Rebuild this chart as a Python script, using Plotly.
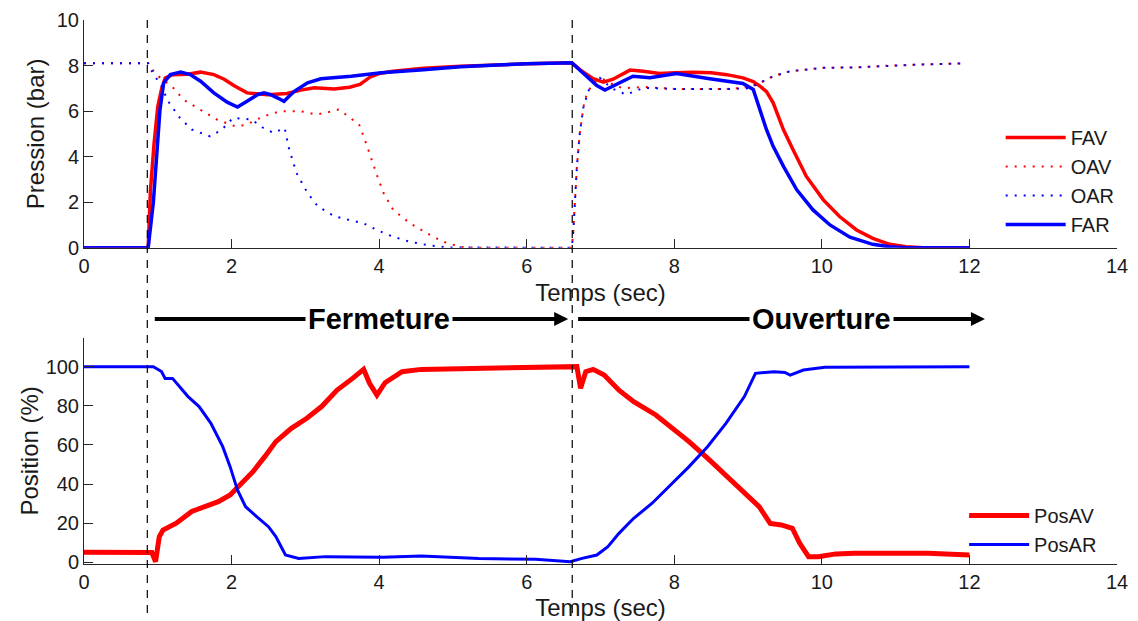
import plotly.graph_objects as go

# --- pression (haut) ---
t_fav = [0, 0.87, 0.9, 0.95, 1.0, 1.05, 1.1, 1.2, 1.4, 1.58, 1.76, 1.9, 2.03, 2.21, 2.49, 2.75, 2.94, 3.12,
         3.39, 3.6, 3.74, 3.88, 4.0, 4.19, 4.6, 5.1, 5.6, 6.0, 6.61, 6.75, 6.9, 7.04, 7.17, 7.3, 7.4, 7.58,
         7.8, 8.0, 8.26, 8.5, 8.71, 8.93, 9.07, 9.16, 9.25, 9.34, 9.48, 9.61, 9.79, 10.02, 10.24, 10.47,
         10.69, 10.92, 11.14, 11.37, 12.0]
p_fav = [0, 0, 2.5, 4.6, 6.2, 6.95, 7.45, 7.6, 7.62, 7.71, 7.6, 7.4, 7.12, 6.8, 6.72, 6.77, 6.92, 7.02,
         6.97, 7.05, 7.17, 7.5, 7.65, 7.75, 7.88, 7.97, 8.02, 8.08, 8.12, 7.75, 7.42, 7.27, 7.4, 7.62, 7.8, 7.75,
         7.65, 7.68, 7.71, 7.68, 7.6, 7.46, 7.3, 7.1, 6.85, 6.36, 5.18, 4.3, 3.13, 2.1, 1.37, 0.78,
         0.41, 0.15, 0.04, 0, 0]

t_oav = [0, 0.87, 0.92, 1.0, 1.1, 1.19, 1.35, 1.57, 1.8, 2.05, 2.2, 2.43, 2.66, 2.93, 3.15, 3.38, 3.45,
         3.57, 3.73, 3.8, 3.89, 3.98, 4.06, 4.19, 4.42, 4.65, 4.87, 5.1, 5.3, 6.61, 6.63, 6.65, 6.68, 6.72,
         6.77, 6.81, 6.9, 7.04, 7.17, 7.3, 7.58, 8.03, 8.71, 8.93, 9.12, 9.34, 9.57, 10.02, 10.47, 10.92,
         11.37, 11.95]
p_oav = [8.1, 8.1, 7.85, 7.55, 7.3, 7.09, 6.5, 6.07, 5.63, 5.33, 5.4, 5.77, 5.99, 6.0, 5.85, 6.0, 6.07,
         5.8, 5.4, 4.8, 3.9, 3.1, 2.4, 1.66, 1.07, 0.63, 0.26, 0.04, 0, 0, 0.63, 2.1, 3.57, 5.04,
         6.2, 6.72, 7.24, 7.39, 7.17, 7.0, 7.06, 6.97, 6.97, 7.02, 7.17, 7.53, 7.75, 7.9, 7.92, 8.0,
         8.05, 8.1]

t_oar = [0, 0.87, 0.9, 0.97, 1.05, 1.14, 1.3, 1.46, 1.71, 1.87, 2.02, 2.27, 2.43, 2.57, 2.72, 2.77, 2.88,
         3.03, 3.17, 3.4, 3.6, 3.79, 3.97, 4.19, 4.42, 4.65, 4.92, 6.61, 6.63, 6.65, 6.68, 6.72, 6.77, 6.86,
         6.99, 7.15, 7.35, 7.58, 8.03, 8.71, 9.0, 9.12, 9.34, 9.57, 10.02, 10.47, 10.92, 11.37, 11.95]
p_oar = [8.1, 8.1, 7.85, 7.5, 7.09, 6.43, 5.7, 5.19, 4.89, 5.19, 5.7, 5.63, 5.26, 5.04, 5.26, 4.45, 3.28,
         2.4, 1.81, 1.37, 1.22, 1.07, 0.78, 0.48, 0.26, 0.12, 0.01, 0, 0.63, 2.1, 3.57, 5.04, 6.2, 7.1,
         7.46, 7.0, 6.72, 7.02, 6.97, 6.97, 7.0, 7.17, 7.53, 7.75, 7.9, 7.92, 8.0, 8.05, 8.1]

t_far = [0, 0.87, 0.94, 0.99, 1.03, 1.08, 1.17, 1.31, 1.44, 1.58, 1.76, 1.94, 2.08, 2.21, 2.35, 2.44, 2.53,
         2.64, 2.71, 2.78, 2.85, 3.03, 3.21, 3.62, 4.03, 4.6, 5.1, 5.6, 6.0, 6.61, 6.81, 6.95, 7.06, 7.22,
         7.44, 7.67, 8.03, 8.48, 8.93, 9.07, 9.16, 9.25, 9.34, 9.48, 9.66, 9.88, 10.11, 10.38, 10.69,
         10.92, 11.14, 12.0]
p_far = [0, 0, 2.0, 4.3, 6.07, 7.24, 7.6, 7.71, 7.6, 7.31, 6.8, 6.39, 6.18, 6.43, 6.72, 6.8, 6.72,
         6.55, 6.43, 6.65, 6.87, 7.24, 7.42, 7.53, 7.68, 7.82, 7.95, 8.02, 8.08, 8.12, 7.53, 7.12, 6.92, 7.17,
         7.53, 7.46, 7.65, 7.42, 7.21, 6.95, 6.06, 5.18, 4.45, 3.57, 2.54, 1.66, 1.0, 0.46, 0.15,
         0.04, 0, 0]

# --- position (bas) ---
t_posav = [0, 0.87, 0.92, 0.97, 1.02, 1.07, 1.25, 1.46, 1.67, 1.82, 1.98, 2.13, 2.29, 2.45, 2.6, 2.81,
           3.02, 3.22, 3.43, 3.64, 3.79, 3.87, 3.97, 4.08, 4.31, 4.57, 5.09, 6.12, 6.62, 6.68, 6.73, 6.8,
           6.9, 7.05, 7.25, 7.45, 7.75, 7.95, 8.2, 8.45, 8.7, 8.95, 9.15, 9.3, 9.45, 9.6, 9.7, 9.82, 9.95,
           10.19, 10.44, 11.44, 12.0]
v_posav = [5.1, 5.0, 5.0, 0.3, 13, 16.5, 20, 26, 29.3, 31, 34.4, 40.4, 46.3, 54, 61.7, 68.5,
           73.6, 79.6, 88, 94, 98.6, 91.5, 85.5, 91.8, 97.4, 98.6, 99.1, 99.7, 100, 100, 88.9, 97.4,
           98.6, 95.7, 88, 82.1, 75.3, 69.3, 61.7, 53.2, 44.6, 36.1, 28.4, 19.9, 19.1, 17.4, 9.7, 2.9, 2.9,
           4.3, 4.6, 4.6, 3.7]

t_posar = [0, 0.87, 0.94, 1.05, 1.1, 1.2, 1.41, 1.56, 1.72, 1.88, 1.98, 2.08, 2.19, 2.34, 2.5, 2.6, 2.73,
           2.91, 3.27, 4.05, 4.57, 5.35, 6.12, 6.59, 6.75, 6.95, 7.1, 7.25, 7.45, 7.7, 7.95, 8.2, 8.45, 8.7,
           8.95, 9.1, 9.35, 9.5, 9.57, 9.75, 10.04, 12.0]
v_posar = [100, 100, 100, 97.5, 94, 94, 84.7, 79.6, 71, 59.1, 48.9, 37, 28.4, 23.3, 18.2, 13.1, 3.7,
           2.0, 2.9, 2.6, 3.2, 2.0, 1.5, 0.3, 2.0, 3.7, 8, 14.8, 22.5, 30.2, 39.5, 48.9, 59.1, 71,
           84.7, 96.6, 97.4, 97, 95.7, 98.3, 99.7, 100]

t_events = [0.858, 6.617]  # debut fermeture / debut ouverture

FONT = 'Liberation Sans, Arial, sans-serif'
AXC = '#262626'
RED = '#ff0000'
BLUE = '#0000ff'

fig = go.Figure()

# pression
fig.add_trace(go.Scatter(x=t_fav, y=p_fav, mode='lines', name='FAV', line=dict(color=RED, width=3.5),
                         xaxis='x', yaxis='y', legend='legend'))
fig.add_trace(go.Scatter(x=t_oav, y=p_oav, mode='lines', name='OAV',
                         line=dict(color=RED, width=2, dash='2px,7px'), xaxis='x', yaxis='y', legend='legend'))
fig.add_trace(go.Scatter(x=t_oar, y=p_oar, mode='lines', name='OAR',
                         line=dict(color=BLUE, width=2, dash='2px,7px'), xaxis='x', yaxis='y', legend='legend'))
fig.add_trace(go.Scatter(x=t_far, y=p_far, mode='lines', name='FAR', line=dict(color=BLUE, width=3.5),
                         xaxis='x', yaxis='y', legend='legend'))

# position
fig.add_trace(go.Scatter(x=t_posav, y=v_posav, mode='lines', name='PosAV', line=dict(color=RED, width=5),
                         xaxis='x2', yaxis='y2', legend='legend2'))
fig.add_trace(go.Scatter(x=t_posar, y=v_posar, mode='lines', name='PosAR', line=dict(color=BLUE, width=3),
                         xaxis='x2', yaxis='y2', legend='legend2'))

axis_style = dict(showline=True, linecolor=AXC, linewidth=1, ticks='inside', ticklen=9, tickcolor=AXC,
                  showgrid=False, zeroline=False, automargin=False, tickfont=dict(size=20, color='#1a1a1a'))

# lignes verticales pointillées
for te in t_events:
    fig.add_shape(type='line', xref='x', yref='paper', x0=te, x1=te, y0=-0.09, y1=1.011,
                  line=dict(color='black', width=1.2, dash='8px,7px'))

# flèches + textes
arrow_y = 0.4504
arrows = [(0.939, 6.562, 4.0, 'Fermeture'), (6.676, 12.21, 10.0, 'Ouverture')]
for x_start, x_end, x_txt, label in arrows:
    fig.add_annotation(x=x_end, y=arrow_y, ax=x_start, ay=0, xref='x', yref='paper',
                       axref='x', ayref='pixel', text='', showarrow=True, arrowhead=2,
                       arrowsize=0.7, arrowwidth=4, arrowcolor='black')
for x_start, x_end, x_txt, label in arrows:
    fig.add_annotation(x=x_txt, y=arrow_y, xref='x', yref='paper', text='<b>' + label + '</b>',
                       showarrow=False, bgcolor='white', borderpad=2,
                       font=dict(size=29, color='black', family=FONT))

fig.update_layout(
    width=1138, height=621,
    margin=dict(l=84, r=21, t=20, b=57, autoexpand=False),
    plot_bgcolor='white', paper_bgcolor='white',
    font=dict(family=FONT, size=20, color='#1a1a1a'),
    xaxis=dict(domain=[0, 1], range=[0, 14], dtick=2, anchor='y',
               title=dict(text='Temps (sec)', standoff=8), **axis_style),
    yaxis=dict(domain=[0.5814, 1], range=[0, 10], dtick=2, anchor='x',
               title=dict(text='Pression (bar)', standoff=5), **axis_style),
    xaxis2=dict(domain=[0, 1], range=[0, 14], dtick=2, anchor='y2',
                title=dict(text='Temps (sec)', standoff=10), **axis_style),
    yaxis2=dict(domain=[0, 0.416], range=[-0.87, 114.8], tickvals=[0, 20, 40, 60, 80, 100], anchor='x2',
                title=dict(text='Position (%)', standoff=0), **axis_style),
    legend=dict(x=0.8874, y=0.82, xanchor='left', yanchor='top', bgcolor='rgba(0,0,0,0)',
                font=dict(size=20), tracegroupgap=0, itemwidth=60),
    legend2=dict(x=0.852, y=0.125, xanchor='left', yanchor='top', bgcolor='rgba(0,0,0,0)',
                 font=dict(size=20), tracegroupgap=0, itemwidth=60),
    showlegend=True,
)

fig.write_html("out.html", config={'displayModeBar': False},
               post_script="document.body.style.margin='0';")
